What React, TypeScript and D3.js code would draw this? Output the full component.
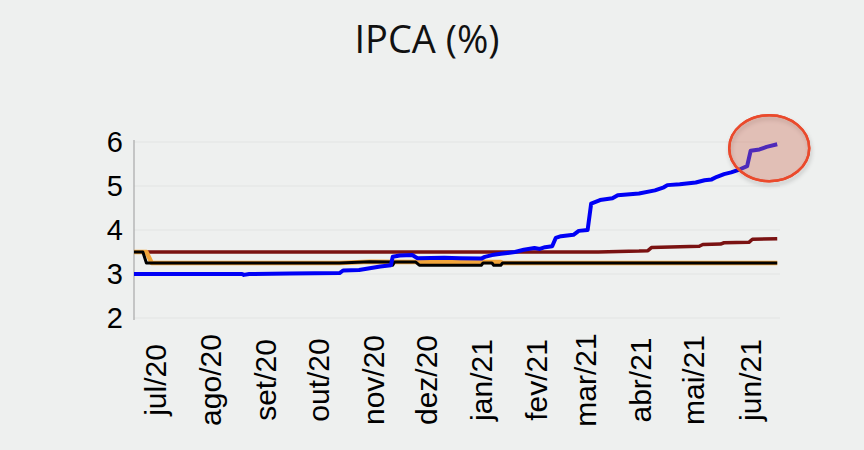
import React from "react";
import * as d3 from "d3";

const title = "IPCA (%)";
const monthLabels = ["jul/20","ago/20","set/20","out/20","nov/20","dez/20","jan/21","fev/21","mar/21","abr/21","mai/21","jun/21"];
const monthTickDates = ["2020-07-13","2020-08-13","2020-09-13","2020-10-13","2020-11-13","2020-12-13","2021-01-13","2021-02-13","2021-03-13","2021-04-13","2021-05-13","2021-06-14"];
const yTicks = [2, 3, 4, 5, 6];
const xDomain = ["2020-07-01", "2021-06-30"];

const focus2021: [string, number][] = [
  ["2020-07-01",3.00],["2020-08-31",3.00],["2020-09-01",2.98],["2020-09-04",3.00],["2020-09-27",3.01],
  ["2020-10-25",3.02],["2020-10-27",3.08],["2020-11-05",3.09],["2020-11-11",3.13],["2020-11-17",3.17],
  ["2020-11-23",3.20],["2020-11-24",3.39],["2020-11-28",3.42],["2020-12-05",3.43],["2020-12-08",3.36],
  ["2020-12-23",3.37],["2021-01-01",3.36],["2021-01-13",3.35],["2021-01-15",3.39],["2021-01-19",3.43],
  ["2021-01-24",3.46],["2021-02-01",3.50],["2021-02-06",3.55],["2021-02-12",3.59],["2021-02-15",3.57],
  ["2021-02-18",3.61],["2021-02-22",3.63],["2021-02-24",3.82],["2021-02-27",3.86],["2021-03-06",3.89],
  ["2021-03-09",3.98],["2021-03-14",4.00],["2021-03-16",4.60],["2021-03-21",4.68],["2021-03-28",4.72],
  ["2021-03-31",4.79],["2021-04-12",4.83],["2021-04-21",4.90],["2021-04-26",4.97],["2021-04-28",5.02],
  ["2021-05-05",5.04],["2021-05-14",5.08],["2021-05-19",5.13],["2021-05-23",5.15],["2021-05-26",5.21],
  ["2021-05-30",5.27],["2021-06-03",5.31],["2021-06-08",5.38],["2021-06-12",5.45],["2021-06-14",5.80],
  ["2021-06-19",5.83],["2021-06-23",5.89],["2021-06-29",5.95]
];

const focus2022: [string, number][] = [
  ["2020-07-01",3.50],["2021-03-20",3.50],["2021-04-12",3.52],["2021-04-17",3.53],["2021-04-19",3.60],
  ["2021-05-16",3.63],["2021-05-18",3.67],["2021-05-28",3.68],["2021-05-30",3.71],["2021-06-13",3.72],
  ["2021-06-15",3.79],["2021-06-29",3.80]
];

const focus2023: [string, number][] = [
  ["2020-07-01",3.50],["2020-07-06",3.50],["2020-07-08",3.25],["2020-10-25",3.25],["2020-11-11",3.28],
  ["2020-11-23",3.27],["2020-11-24",3.20],["2020-11-25",3.27],["2020-12-07",3.27],["2020-12-09",3.20],
  ["2021-01-13",3.20],["2021-01-14",3.25],["2021-01-19",3.25],["2021-01-20",3.20],["2021-01-24",3.20],
  ["2021-01-25",3.25],["2021-06-29",3.25]
];

const focus2024: [string, number][] = [
  ["2020-07-01",3.50],["2020-07-08",3.50],["2020-07-11",3.25],["2020-10-25",3.25],["2020-11-11",3.28],
  ["2020-12-07",3.27],["2021-01-24",3.27],["2021-01-25",3.25],["2021-06-29",3.25]
];

const highlightPoint: [string, number] = ["2021-06-29", 5.95];

const parse = d3.timeParse("%Y-%m-%d");

export default function App() {
  const W = 864, H = 450;
  const x = d3.scaleTime()
    .domain(xDomain.map((s) => parse(s) as Date))
    .range([134, 779]);
  const y = d3.scaleLinear().domain([2, 6]).range([318, 142]);
  const line = d3.line<[string, number]>()
    .x((d) => x(parse(d[0]) as Date))
    .y((d) => y(d[1]));

  const hx = x(parse(highlightPoint[0]) as Date) - 8;
  const hy = y(highlightPoint[1]) + 4;

  const axisFont = "'Liberation Sans', Arial, sans-serif";

  return (
    <svg width={W} height={H} style={{ position: "fixed", left: 0, top: 0 }}>
      <defs>
        <filter id="shadow" x="-30%" y="-30%" width="160%" height="160%">
          <feDropShadow dx="1" dy="3" stdDeviation="2" floodColor="#000" floodOpacity="0.22" />
        </filter>
      </defs>
      <rect width={W} height={H} fill="#eef0ef" />
      <text x={427} y={53} textAnchor="middle" fontFamily="'Open Sans', 'Noto Sans', sans-serif" fontSize={38} fill="#111">
        {title}
      </text>
      {yTicks.map((t) => (
        <line key={"g" + t} x1={134} x2={780} y1={y(t)} y2={y(t)} stroke="#e2e4e3" strokeWidth={1} />
      ))}
      <line x1={134} x2={134} y1={140} y2={320} stroke="#a8a8a8" strokeWidth={1.2} />
      {yTicks.map((t) => (
        <text key={"y" + t} x={123} y={y(t)} dy="0.36em" textAnchor="end" fontFamily={axisFont} fontSize={29} fill="#000">
          {t}
        </text>
      ))}
      {monthLabels.map((m, i) => {
        const cx = x(parse(monthTickDates[i]) as Date) + 10.5;
        return (
          <text key={m} transform={`translate(${cx},380) rotate(-90)`} textAnchor="middle" fontFamily={axisFont} fontSize={30} fill="#000">
            {m}
          </text>
        );
      })}
      <path d={line(focus2022) || ""} fill="none" stroke="#7a1212" strokeWidth={3.5} strokeLinejoin="round" />
      <path d={line(focus2024) || ""} fill="none" stroke="#f2a53a" strokeWidth={4.5} strokeLinejoin="round" />
      <path d={line(focus2023) || ""} fill="none" stroke="#000" strokeWidth={3} strokeLinejoin="round" />
      <path d={line(focus2021) || ""} fill="none" stroke="#0000f5" strokeWidth={4} strokeLinejoin="round" />
      <ellipse cx={hx} cy={hy} rx={40} ry={33} fill="none" stroke="#e8452b" strokeWidth={2.5} filter="url(#shadow)" />
      <ellipse cx={hx} cy={hy} rx={40} ry={33} fill="rgb(205,110,90)" fillOpacity={0.38} stroke="#ea4a2c" strokeWidth={2.5} />
    </svg>
  );
}
